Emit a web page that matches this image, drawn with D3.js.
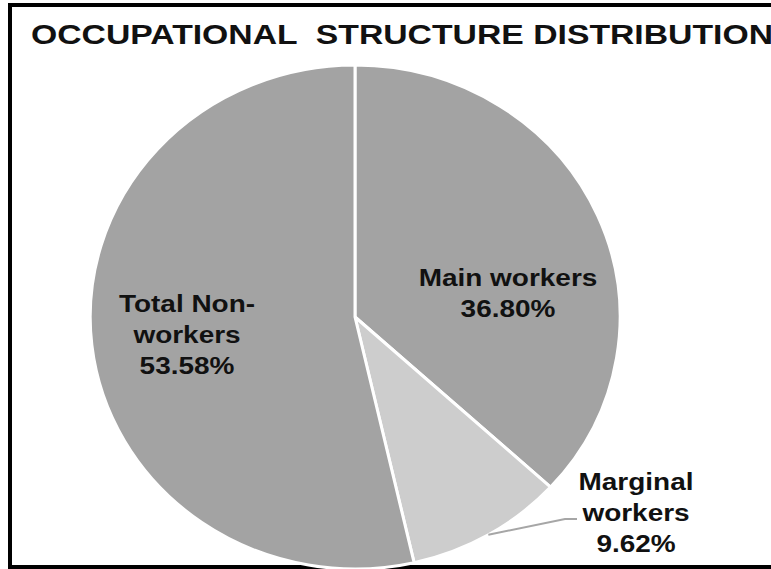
<!DOCTYPE html>
<html>
<head>
<meta charset="utf-8">
<script src="https://cdn.jsdelivr.net/npm/d3@7"></script>
<style>
  html, body { margin: 0; padding: 0; background: #fff; }
  svg { display: block; }
  text { font-family: "Liberation Sans", Arial, sans-serif; font-weight: bold; fill: #111; }
</style>
</head>
<body>
<svg id="chart" width="771" height="569"></svg>
<script>
// Occupational structure, share of population (%)
const categories = ["Main workers", "Marginal workers", "Total Non-workers"];
const shares = [36.80, 9.62, 53.58];
// How each category name is broken onto lines inside its label
const nameLines = [["Main workers"], ["Marginal", "workers"], ["Total Non-", "workers"]];
const sliceColors = ["#a3a3a3", "#cdcdcd", "#a3a3a3"];
const title = "OCCUPATIONAL  STRUCTURE DISTRIBUTION";

// Layout
const W = 771, H = 569;
const cx = 355, cy = 317, rx = 265, ry = 252;
const labelAnchors = [[508, 286], [636, 490], [187, 312]];
const lineGap = 31;
const fontSize = 23.5, stretch = 1.19;

const svg = d3.select("#chart");
const fmt = d3.format(".2f");

// Outer frame (open on the right)
svg.append("rect")
  .attr("x", 10).attr("y", 5)
  .attr("width", W + 20).attr("height", 562)
  .attr("fill", "none").attr("stroke", "#000").attr("stroke-width", 4);

// Title
svg.append("text")
  .attr("x", 31).attr("y", 43.5)
  .attr("font-size", 27)
  .attr("textLength", 742)
  .attr("lengthAdjust", "spacingAndGlyphs")
  .style("white-space", "pre")
  .text(title);

// Pie, drawn on a unit circle and stretched into the plot ellipse
const pie = d3.pie().sort(null).startAngle(0).endAngle(2 * Math.PI);
const arcs = pie(shares);
const arc = d3.arc().innerRadius(0).outerRadius(1);

const g = svg.append("g")
  .attr("transform", `translate(${cx},${cy}) scale(${rx},${ry})`);

g.selectAll("path")
  .data(arcs)
  .join("path")
  .attr("d", arc)
  .attr("fill", (d, i) => sliceColors[i])
  .attr("stroke", "#fff")
  .attr("stroke-width", 3)
  .attr("stroke-linejoin", "round")
  .attr("vector-effect", "non-scaling-stroke");

// Leader line for the small slice: starts at the middle of its outer edge
const mArc = arcs[1];
const a0 = (mArc.startAngle + mArc.endAngle) / 2;
const edge = [cx + rx * Math.sin(a0), cy - ry * Math.cos(a0)];
svg.append("polyline")
  .attr("points", [edge, [565, 519], [577, 519]].map(p => p.join(",")).join(" "))
  .attr("fill", "none")
  .attr("stroke", "#a6a6a6")
  .attr("stroke-width", 2);

// Data labels: category name lines followed by the percentage
categories.forEach((c, i) => {
  const lines = nameLines[i].concat([fmt(shares[i]) + "%"]);
  const [lx, ly] = labelAnchors[i];
  lines.forEach((t, k) => {
    svg.append("text")
      .attr("transform", `translate(${lx},${ly + k * lineGap}) scale(${stretch},1)`)
      .attr("text-anchor", "middle")
      .attr("font-size", fontSize)
      .text(t);
  });
});
</script>
</body>
</html>
